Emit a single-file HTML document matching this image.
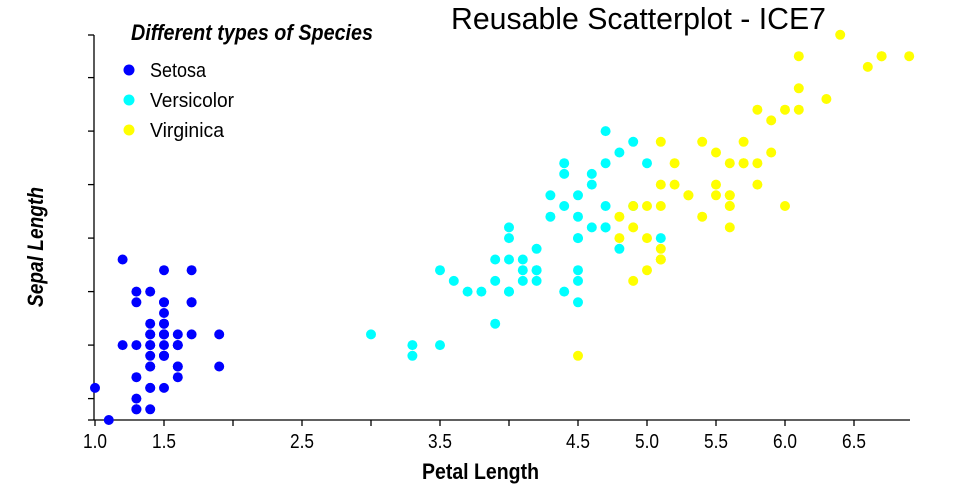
<!DOCTYPE html>
<html><head><meta charset="utf-8"><style>
html,body{margin:0;padding:0;background:#fff;width:960px;height:500px;overflow:hidden}
svg{display:block}
text{font-family:"Liberation Sans Narrow","Liberation Sans",sans-serif;fill:#000}
</style></head><body>
<svg id="s" width="960" height="500" xmlns="http://www.w3.org/2000/svg">
<text x="451" y="29" font-size="31" textLength="375" lengthAdjust="spacingAndGlyphs">Reusable Scatterplot - ICE7</text>
<text x="131" y="40" font-size="22" font-weight="bold" font-style="italic" textLength="242" lengthAdjust="spacingAndGlyphs">Different types of Species</text>
<circle cx="129" cy="70" r="5.5" fill="#0000ff"/><text x="150" y="77" font-size="20" textLength="56" lengthAdjust="spacingAndGlyphs">Setosa</text>
<circle cx="129" cy="100" r="5.5" fill="#00ffff"/><text x="150" y="107" font-size="20" textLength="84" lengthAdjust="spacingAndGlyphs">Versicolor</text>
<circle cx="129" cy="130" r="5.5" fill="#ffff00"/><text x="150" y="137" font-size="20" textLength="74" lengthAdjust="spacingAndGlyphs">Virginica</text>
<text transform="translate(43,307) rotate(-90)" font-size="22" font-weight="bold" font-style="italic" textLength="120" lengthAdjust="spacingAndGlyphs">Sepal Length</text>
<text x="422" y="479" font-size="22" font-weight="bold" textLength="117" lengthAdjust="spacingAndGlyphs">Petal Length</text>
<g id="ax" stroke="#000" stroke-width="1.3"></g>
<g id="pts"></g>
</svg>
<script>
var NS="http://www.w3.org/2000/svg",s=document.getElementById('s'),ax=document.getElementById('ax'),pts=document.getElementById('pts');
function X(v){return 95+(v-1)*138}function Y(v){return 420-(v-4.3)*107}
function el(p,t,a){var e=document.createElementNS(NS,t);for(var k in a)e.setAttribute(k,a[k]);p.appendChild(e);return e}
el(ax,'line',{x1:94,y1:35,x2:94,y2:420});el(ax,'line',{x1:94,y1:420,x2:910,y2:420});
el(ax,'line',{x1:88,y1:35,x2:94,y2:35});
for(var v=4.5;v<7.6;v+=0.5){var y=Y(v);el(ax,'line',{x1:88,y1:y,x2:94,y2:y})}
el(ax,'line',{x1:88,y1:420,x2:94,y2:420});
var lab={"1.0":1,"1.5":1,"2.5":1,"3.5":1,"4.5":1,"5.0":1,"5.5":1,"6.0":1,"6.5":1};
for(var v=1;v<6.6;v+=0.5){var x=X(v);el(ax,'line',{x1:x,y1:420,x2:x,y2:426});var k=v.toFixed(1);if(lab[k]){var t=el(s,'text',{x:x-12,y:448,'font-size':20,textLength:24,lengthAdjust:'spacingAndGlyphs'});t.textContent=k}}
var d=[
["#0000ff",[5.1,4.9,4.7,4.6,5.0,5.4,4.6,5.0,4.4,4.9,5.4,4.8,4.8,4.3,5.8,5.7,5.4,5.1,5.7,5.1,5.4,5.1,4.6,5.1,4.8,5.0,5.0,5.2,5.2,4.7,4.8,5.4,5.2,5.5,4.9,5.0,5.5,4.9,4.4,5.1,5.0,4.5,4.4,5.0,5.1,4.8,5.1,4.6,5.3,5.0],
[1.4,1.4,1.3,1.5,1.4,1.7,1.4,1.5,1.4,1.5,1.5,1.6,1.4,1.1,1.2,1.5,1.3,1.4,1.7,1.5,1.7,1.5,1.0,1.7,1.9,1.6,1.6,1.5,1.4,1.6,1.6,1.5,1.5,1.4,1.5,1.2,1.3,1.5,1.3,1.5,1.3,1.3,1.3,1.6,1.9,1.4,1.6,1.4,1.5,1.4]],
["#00ffff",[7.0,6.4,6.9,5.5,6.5,5.7,6.3,4.9,6.6,5.2,5.0,5.9,6.0,6.1,5.6,6.7,5.6,5.8,6.2,5.6,5.9,6.1,6.3,6.1,6.4,6.6,6.8,6.7,6.0,5.7,5.5,5.5,5.8,6.0,5.4,6.0,6.7,6.3,5.6,5.5,5.5,6.1,5.8,5.0,5.6,5.7,5.7,6.2,5.1,5.7],
[4.7,4.5,4.9,4.0,4.6,4.5,4.7,3.3,4.6,3.9,3.5,4.2,4.0,4.7,3.6,4.4,4.5,4.1,4.5,3.9,4.8,4.0,4.9,4.7,4.3,4.4,4.8,5.0,4.5,3.5,3.8,3.7,3.9,5.1,4.5,4.5,4.7,4.4,4.1,4.0,4.4,4.6,4.0,3.3,4.2,4.2,4.2,4.3,3.0,4.1]],
["#ffff00",[6.3,5.8,7.1,6.3,6.5,7.6,4.9,7.3,6.7,7.2,6.5,6.4,6.8,5.7,5.8,6.4,6.5,7.7,7.7,6.0,6.9,5.6,7.7,6.3,6.7,7.2,6.2,6.1,6.4,7.2,7.4,7.9,6.4,6.3,6.1,7.7,6.3,6.4,6.0,6.9,6.7,6.9,5.8,6.8,6.7,6.7,6.3,6.5,6.2,5.9],
[6.0,5.1,5.9,5.6,5.8,6.6,4.5,6.3,5.8,6.1,5.1,5.3,5.5,5.0,5.1,5.3,5.5,6.7,6.9,5.0,5.7,4.9,6.7,4.9,5.7,6.0,4.8,4.9,5.6,5.8,6.1,6.4,5.6,5.1,5.6,6.1,5.6,5.5,4.8,5.4,5.6,5.1,5.1,5.9,5.7,5.2,5.0,5.2,5.4,5.1]]];
d.forEach(function(g){for(var i=0;i<50;i++)el(pts,'circle',{cx:X(g[2][i]),cy:Y(g[1][i]),r:5,fill:g[0]})});
</script>
</body></html>
